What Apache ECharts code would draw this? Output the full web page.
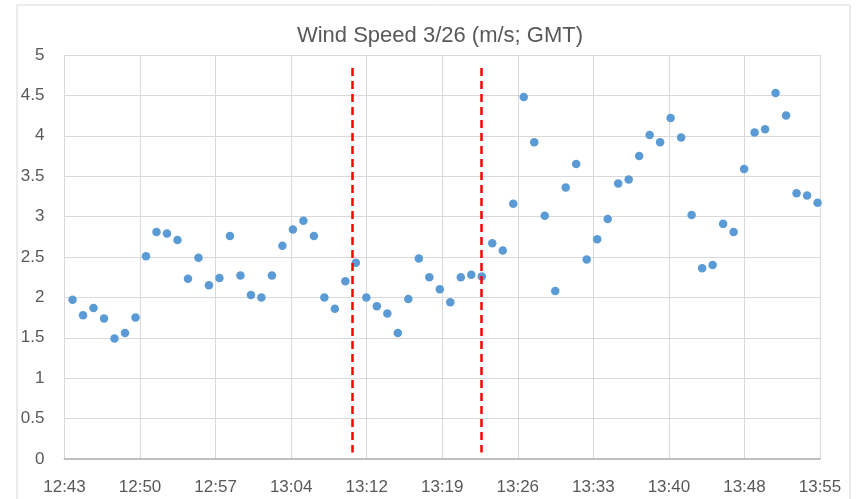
<!DOCTYPE html>
<html>
<head>
<meta charset="utf-8">
<title>Wind Speed 3/26</title>
<script src="https://cdn.jsdelivr.net/npm/echarts@6/dist/echarts.min.js"></script>
<style>
  html, body { margin: 0; padding: 0; background: #fff; }
  #main { width: 858px; height: 499px; }
</style>
</head>
<body>
<div id="main"></div>
<script>
// x axis starts at 12:43:00, ticks every 7.2 minutes
const axisStart = '12:43:00';
const tickLabels = ['12:43', '12:50', '12:57', '13:04', '13:12', '13:19',
  '13:26', '13:33', '13:40', '13:48', '13:55'];

const times = [
  '12:43:46', '12:44:46', '12:45:46', '12:46:46', '12:47:46', '12:48:46',
  '12:49:46', '12:50:46', '12:51:46', '12:52:46', '12:53:46', '12:54:46',
  '12:55:46', '12:56:46', '12:57:46', '12:58:46', '12:59:46', '13:00:46',
  '13:01:46', '13:02:46', '13:03:46', '13:04:46', '13:05:46', '13:06:46',
  '13:07:46', '13:08:46', '13:09:46', '13:10:46', '13:11:46', '13:12:46',
  '13:13:46', '13:14:46', '13:15:46', '13:16:46', '13:17:46', '13:18:46',
  '13:19:46', '13:20:46', '13:21:46', '13:22:46', '13:23:46', '13:24:46',
  '13:25:46', '13:26:46', '13:27:46', '13:28:46', '13:29:46', '13:30:46',
  '13:31:46', '13:32:46', '13:33:46', '13:34:46', '13:35:46', '13:36:46',
  '13:37:46', '13:38:46', '13:39:46', '13:40:46', '13:41:46', '13:42:46',
  '13:43:46', '13:44:46', '13:45:46', '13:46:46', '13:47:46', '13:48:46',
  '13:49:46', '13:50:46', '13:51:46', '13:52:46', '13:53:46', '13:54:46'
];

const speeds = [
  1.97, 1.78, 1.87, 1.74, 1.49, 1.56, 1.75, 2.51, 2.81, 2.79, 2.71, 2.23,
  2.49, 2.15, 2.24, 2.76, 2.27, 2.03, 2.00, 2.27, 2.64, 2.84, 2.95, 2.76,
  2.00, 1.86, 2.20, 2.43, 2.00, 1.89, 1.80, 1.56, 1.98, 2.48, 2.25, 2.10,
  1.94, 2.25, 2.28, 2.26, 2.67, 2.58, 3.16, 4.48, 3.92, 3.01, 2.08, 3.36,
  3.65, 2.47, 2.72, 2.97, 3.41, 3.46, 3.75, 4.01, 3.92, 4.22, 3.98, 3.02,
  2.36, 2.40, 2.91, 2.81, 3.59, 4.04, 4.08, 4.53, 4.25, 3.29, 3.26, 3.17
];

// red dashed markers
const cutTimes = ['13:10:28', '13:22:45'];
const cutRange = [0.08, 4.84];

function toMin(t) {
  const p = t.split(':').map(Number);
  const s = axisStart.split(':').map(Number);
  return (p[0] * 3600 + p[1] * 60 + p[2] - s[0] * 3600 - s[1] * 60 - s[2]) / 60;
}

const points = times.map((t, i) => [toMin(t), speeds[i]]);
const cuts = cutTimes.map(t => [
  { coord: [toMin(t), cutRange[1]] },
  { coord: [toMin(t), cutRange[0]] }
]);

const chart = echarts.init(document.getElementById('main'));
const option = {
  animation: false,
  backgroundColor: '#fff',
  textStyle: { fontFamily: 'Liberation Sans' },
  title: {
    text: 'Wind Speed 3/26 (m/s; GMT)',
    left: 435,
    top: 20,
    textAlign: 'center',
    textStyle: { fontSize: 22, fontWeight: 'normal', color: '#595959', fontFamily: 'Liberation Sans' }
  },
  graphic: [{
    type: 'rect',
    shape: { x: 17, y: 5, width: 833, height: 510 },
    style: { fill: 'none', stroke: '#d9d9d9', lineWidth: 1 },
    silent: true,
    z: -1
  }],
  grid: { left: 64.5, top: 55, right: 38, bottom: 40 },
  xAxis: {
    type: 'value',
    min: 0,
    max: 72,
    interval: 7.2,
    axisLine: { show: true, onZero: false, lineStyle: { color: '#bfbfbf', width: 2 } },
    axisTick: { show: false },
    splitLine: { show: true, lineStyle: { color: '#d9d9d9', width: 1 } },
    axisLabel: {
      color: '#595959',
      fontSize: 17,
      margin: 20,
      formatter: v => tickLabels[Math.round(v / 7.2)]
    }
  },
  yAxis: {
    type: 'value',
    min: 0,
    max: 5,
    interval: 0.5,
    axisLine: { show: false },
    axisTick: { show: false },
    splitLine: { show: true, lineStyle: { color: '#d9d9d9', width: 1 } },
    axisLabel: { color: '#595959', fontSize: 17, margin: 20 }
  },
  series: [{
    type: 'scatter',
    data: points,
    symbolSize: 8.5,
    itemStyle: { color: '#5b9bd5', opacity: 1 },
    markLine: {
      silent: true,
      symbol: 'none',
      label: { show: false },
      lineStyle: { color: '#ff0000', type: [8, 5], width: 2.5 },
      data: cuts
    }
  }]
};
chart.setOption(option);
</script>
</body>
</html>
